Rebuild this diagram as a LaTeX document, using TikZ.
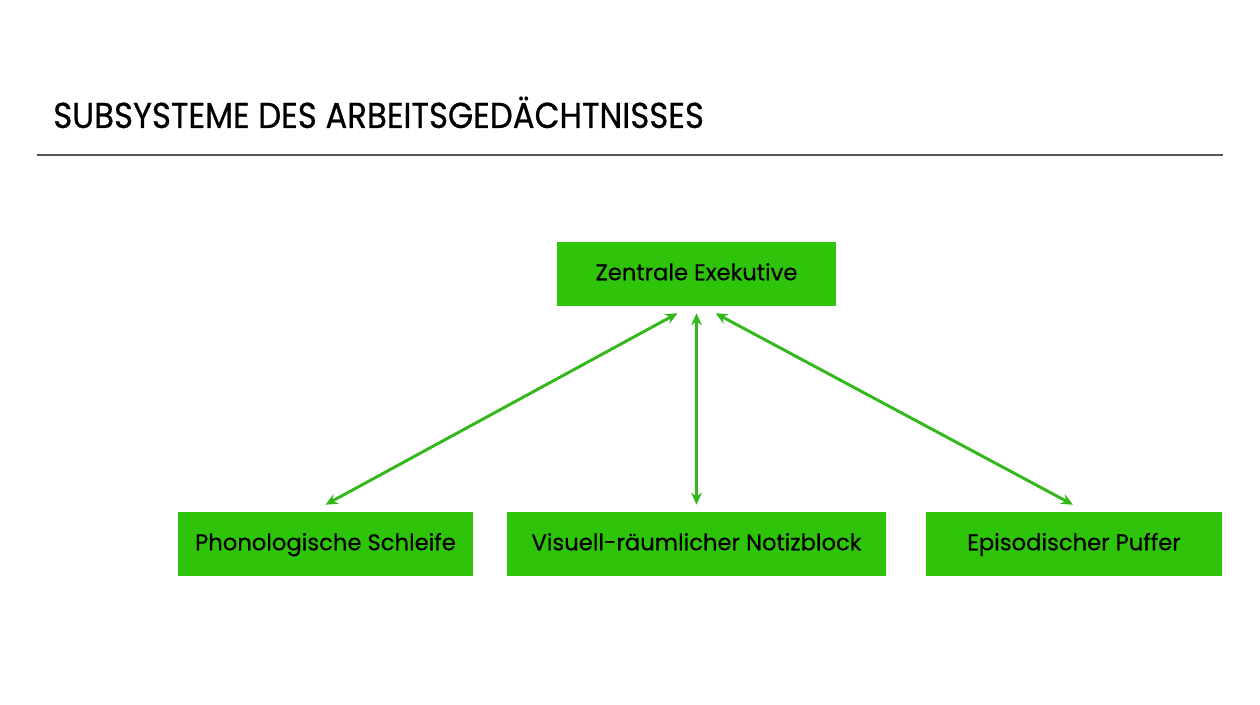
\documentclass[tikz,border=0pt]{standalone}
\usepackage{fontspec}
\setmainfont{Poppins}
\newfontfamily\headfont{Poppins}[FakeStretch=0.9, FakeBold=0.6]
\newfontfamily\boxfont{Poppins}[FakeBold=0.5]
\usepackage{xcolor}
\usepackage{tikz}
\usetikzlibrary{arrows.meta, positioning, calc}
\definecolor{boxgreen}{HTML}{2EC40A}
\definecolor{arrowgreen}{HTML}{33B81C}
\definecolor{rulegray}{HTML}{555555}

\begin{document}
\begin{tikzpicture}[
    x=0.75pt, y=0.75pt,
    subsys/.style={
        rectangle, fill=boxgreen, draw=none,
        minimum height=64*0.75pt, inner sep=0pt,
        text height=1.04em, text depth=0.1em,
        font=\boxfont\fontsize{17}{20}\selectfont, text=black,
    },
    link/.style={
        {Stealth[length=9pt,width=8pt]}-{Stealth[length=9pt,width=8pt]},
        draw=arrowgreen, line width=2.2pt,
    },
]

% ── Canvas ──────────────────────────────────────────────────────────────────
\useasboundingbox[fill=white] (0,0) rectangle (1260,705);

% ── Heading ─────────────────────────────────────────────────────────────────
\node[anchor=base west, inner sep=0pt, font=\headfont\fontsize{27}{32}\selectfont]
    (title) at (53,577) {SUBSYSTEME DES ARBEITSGEDÄCHTNISSES};
\draw[rulegray, line width=1.5pt] (37,550) -- (1223,550);

% ── Boxes ───────────────────────────────────────────────────────────────────
\node[subsys, minimum width=279*0.75pt] (ze) at (696.5,431) {Zentrale Exekutive};

\node[subsys, minimum width=295*0.75pt] (ps) at (325.5,161) {Phonologische Schleife};
\node[subsys, minimum width=379*0.75pt] (vn) at (696.5,161) {Visuell-räumlicher Notizblock};
\node[subsys, minimum width=296*0.75pt] (ep) at (1074,161)  {Episodischer Puffer};

% ── Links ───────────────────────────────────────────────────────────────────
\draw[link] ([xshift=-19*0.75pt, yshift=-7*0.75pt]ze.south) -- ([yshift=7*0.75pt]ps.north);
\draw[link] ([yshift=-7*0.75pt]ze.south) -- ([yshift=7*0.75pt]vn.north);
\draw[link] ([xshift=19*0.75pt, yshift=-7*0.75pt]ze.south) -- ([xshift=-1*0.75pt, yshift=7*0.75pt]ep.north);

\end{tikzpicture}
\end{document}
